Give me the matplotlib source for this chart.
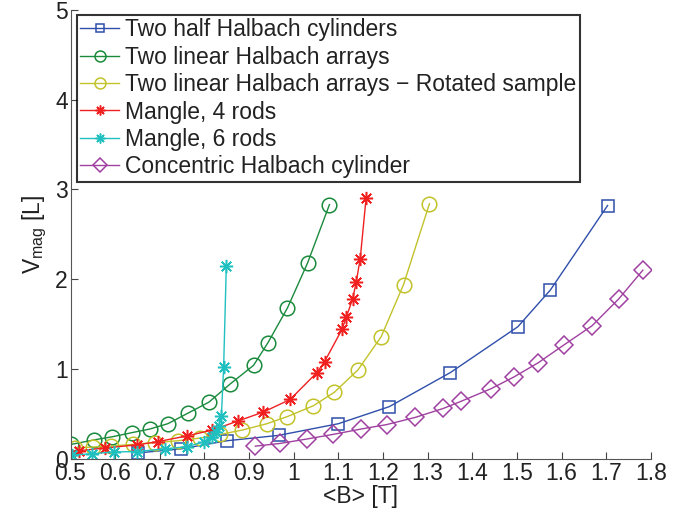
import numpy as np
import matplotlib
matplotlib.use('Agg')
import matplotlib.pyplot as plt

plt.rcParams['font.family'] = ['Liberation Sans', 'DejaVu Sans']

# Two half Halbach cylinders
half_x = [0.652, 0.748, 0.85, 0.966, 1.10, 1.214, 1.351, 1.502, 1.575, 1.703]
half_y = [0.065, 0.11, 0.20, 0.26, 0.39, 0.58, 0.96, 1.47, 1.88, 2.82]

# Two linear Halbach arrays
lin_x = [0.502, 0.553, 0.594, 0.637, 0.677, 0.718, 0.764, 0.81, 0.857,
         0.91, 0.942, 0.986, 1.031, 1.08]
lin_y = [0.16, 0.21, 0.245, 0.29, 0.33, 0.39, 0.51, 0.63, 0.83,
         1.04, 1.29, 1.68, 2.18, 2.83]

# Two linear Halbach arrays - rotated sample
rot_x = [0.51, 0.55, 0.59, 0.64, 0.69, 0.74, 0.79, 0.835, 0.885, 0.94,
         0.986, 1.044, 1.091, 1.144, 1.196, 1.246, 1.304]
rot_y = [0.12, 0.13, 0.14, 0.16, 0.18, 0.20, 0.23, 0.27, 0.32, 0.39,
         0.47, 0.59, 0.74, 0.99, 1.36, 1.94, 2.84]

# Mangle, 4 rods
m4_x = [0.52, 0.578, 0.65, 0.695, 0.762, 0.818, 0.875, 0.932, 0.992,
        1.052, 1.069, 1.108, 1.118, 1.132, 1.14, 1.149, 1.162]
m4_y = [0.09, 0.12, 0.155, 0.19, 0.255, 0.32, 0.42, 0.52, 0.66,
        0.96, 1.08, 1.44, 1.58, 1.78, 1.97, 2.23, 2.90]

# Mangle, 6 rods
m6_x = [0.503, 0.548, 0.597, 0.649, 0.712, 0.762, 0.800, 0.818, 0.826,
        0.832, 0.838, 0.843, 0.849]
m6_y = [0.04, 0.055, 0.075, 0.08, 0.11, 0.135, 0.19, 0.24, 0.30,
        0.36, 0.48, 1.02, 2.15]

# Concentric Halbach cylinder
conc_x = [0.914, 0.969, 1.03, 1.087, 1.15, 1.208, 1.272, 1.335, 1.375,
          1.442, 1.493, 1.548, 1.606, 1.668, 1.728, 1.782]
conc_y = [0.14, 0.17, 0.22, 0.27, 0.33, 0.38, 0.46, 0.56, 0.64,
          0.78, 0.91, 1.07, 1.27, 1.48, 1.78, 2.10]

x_ticks = [0.5, 0.6, 0.7, 0.8, 0.9, 1.0, 1.1, 1.2, 1.3, 1.4, 1.5, 1.6, 1.7, 1.8]
x_labels = ['0.5', '0.6', '0.7', '0.8', '0.9', '1', '1.1', '1.2', '1.3',
            '1.4', '1.5', '1.6', '1.7', '1.8']
y_ticks = [0, 1, 2, 3, 4, 5]

fig = plt.figure(figsize=(6.78, 5.16), dpi=100)
ax = fig.add_axes([0.104, 0.111, 0.856, 0.870])

asterisk = (8, 2, 0)
lw = 1.0
mew = 1.1
fs = 16.5

ax.plot(half_x, half_y, color='#2f4faa', lw=lw, marker='s', ms=8,
        mfc='none', mew=mew, label='Two half Halbach cylinders')
ax.plot(lin_x, lin_y, color='#1a8a3c', lw=lw, marker='o', ms=10.5,
        mfc='none', mew=mew, label='Two linear Halbach arrays')
ax.plot(rot_x, rot_y, color='#c2c22a', lw=lw, marker='o', ms=10.5,
        mfc='none', mew=mew, label='Two linear Halbach arrays \u2212 Rotated sample')
ax.plot(m4_x, m4_y, color='#f02020', lw=lw, marker=asterisk, ms=9.5,
        mew=mew, label='Mangle, 4 rods')
ax.plot(m6_x, m6_y, color='#20c0c0', lw=lw, marker=asterisk, ms=9.5,
        mew=mew, label='Mangle, 6 rods')
ax.plot(conc_x, conc_y, color='#a040a0', lw=lw, marker='D', ms=9,
        mfc='none', mew=mew, label='Concentric Halbach cylinder')

ax.set_xlim(0.5, 1.8)
ax.set_ylim(0, 5)
ax.set_xticks(x_ticks)
ax.set_xticklabels(x_labels)
ax.set_yticks(y_ticks)
ax.tick_params(direction='in', labelsize=fs, length=5, width=0.8,
               colors='#444444', labelcolor='#222222', pad=2)

for side in ['top', 'right']:
    ax.spines[side].set_visible(False)
for side in ['left', 'bottom']:
    ax.spines[side].set_color('#555555')
    ax.spines[side].set_linewidth(0.8)

ax.set_xlabel('<B> [T]', fontsize=fs, color='#222222', labelpad=0)
ax.set_ylabel(r'V$_\mathregular{mag}$ [L]', fontsize=fs, color='#222222', labelpad=4)

leg = ax.legend(loc='upper left', bbox_to_anchor=(77 / 678, 1 - 15 / 516),
                bbox_transform=fig.transFigure, fontsize=fs, frameon=True,
                fancybox=False, borderaxespad=0, borderpad=0.15,
                labelspacing=0.19, handlelength=1.7, handletextpad=0.25,
                markerscale=0.75)
leg.get_frame().set_edgecolor('black')
leg.get_frame().set_linewidth(1.5)
for t in leg.get_texts():
    t.set_color('#222222')

fig.savefig('out.png', dpi=100)
